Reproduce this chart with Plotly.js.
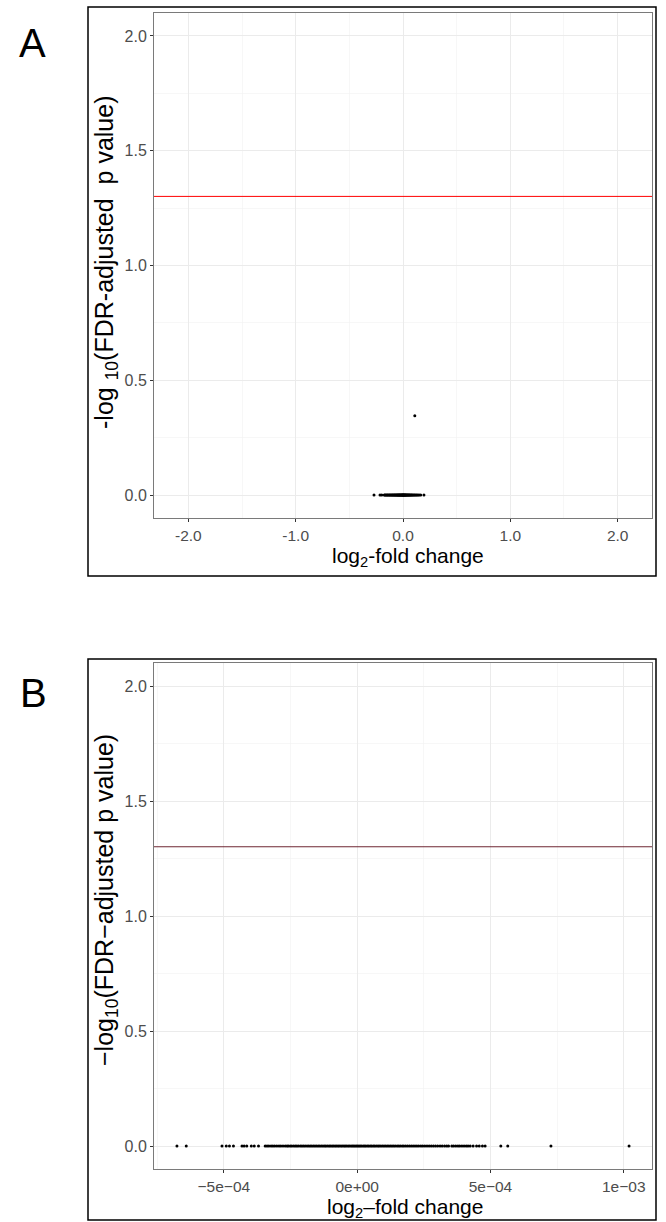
<!DOCTYPE html>
<html>
<head>
<meta charset="utf-8">
<script src="https://cdn.plot.ly/plotly-3.0.1.min.js"></script>
<style>html,body{margin:0;padding:0;background:#fff;}#chart{width:666px;height:1222px;}</style>
</head>
<body>
<div id="chart"></div>
<script>
// ---------- Panel A data ----------
const aZeroX = [-0.27, -0.214, -0.198, -0.175, -0.168, -0.160, -0.152, -0.146, -0.139, -0.131, -0.125, -0.118, -0.112, -0.105, -0.099, -0.093, -0.087, -0.081, -0.076, -0.070, -0.065, -0.060, -0.055, -0.050, -0.046, -0.041, -0.037, -0.033, -0.029, -0.025, -0.021, -0.017, -0.013, -0.010, -0.006, -0.003, 0.000, 0.003, 0.006, 0.009, 0.012, 0.016, 0.019, 0.023, 0.027, 0.031, 0.035, 0.040, 0.044, 0.049, 0.054, 0.059, 0.064, 0.070, 0.076, 0.082, 0.089, 0.096, 0.104, 0.112, 0.121, 0.130, 0.140, 0.151, 0.165, 0.195];
const aZeroY = aZeroX.map(() => 0);
const aHighX = [0.11];
const aHighY = [0.345];

// ---------- Panel B data ----------
const bX = [-67.6e-5, -64.1e-5, -50.7e-5, -49.1e-5, -47.9e-5, -46.4e-5, -43.2e-5, -42.4e-5, -41.4e-5, -39.7e-5, -38.6e-5, -37.0e-5,
  -34.5e-5, -33.8e-5, -33.1e-5, -32.3e-5, -31.6e-5, -30.9e-5, -30.1e-5, -29.3e-5, -28.6e-5, -27.8e-5, -27.0e-5, -26.3e-5, -25.8e-5,
  -25.1e-5, -24.5e-5, -23.8e-5, -23.2e-5, -22.6e-5, -22.0e-5, -21.3e-5, -20.7e-5, -20.1e-5, -19.5e-5, -18.8e-5, -18.2e-5, -17.6e-5, -17.0e-5, -16.4e-5, -15.8e-5, -15.2e-5, -14.6e-5, -14.0e-5, -13.4e-5, -12.8e-5, -12.2e-5, -11.7e-5, -11.1e-5, -10.5e-5, -10.0e-5, -9.4e-5, -8.9e-5, -8.3e-5, -7.8e-5, -7.2e-5, -6.7e-5, -6.1e-5, -5.6e-5, -5.0e-5, -4.5e-5, -4.0e-5, -3.4e-5, -2.9e-5, -2.3e-5, -1.8e-5, -1.3e-5, -0.8e-5, -0.3e-5,
  0.2e-5, 0.7e-5, 1.2e-5, 1.7e-5, 2.3e-5, 2.8e-5, 3.3e-5, 3.9e-5, 4.4e-5, 5.0e-5, 5.5e-5, 6.1e-5, 6.6e-5, 7.2e-5, 7.8e-5, 8.3e-5, 8.9e-5, 9.5e-5, 10.1e-5, 10.7e-5, 11.3e-5, 11.9e-5, 12.5e-5, 13.1e-5, 13.7e-5, 14.3e-5, 15.0e-5, 15.6e-5, 16.2e-5, 16.9e-5, 17.5e-5, 18.2e-5, 18.9e-5, 19.6e-5, 20.3e-5, 21.0e-5, 21.7e-5, 22.4e-5, 23.1e-5, 23.9e-5, 24.6e-5, 25.4e-5, 26.2e-5, 27.0e-5, 27.8e-5, 28.6e-5, 29.4e-5, 30.2e-5, 31.1e-5,
  31.9e-5, 32.8e-5, 33.6e-5, 34.3e-5, 35.5e-5, 36.2e-5, 37.0e-5, 37.8e-5, 38.5e-5, 39.3e-5, 40.1e-5, 40.9e-5, 41.6e-5, 42.4e-5, 43.5e-5, 44.8e-5, 45.8e-5, 47.0e-5, 48.0e-5,
  53.9e-5, 56.5e-5, 72.7e-5, 102.0e-5];
const bY = bX.map(() => 0);

// ---------- ticks / labels ----------
const yTickVals = [0, 0.5, 1.0, 1.5, 2.0];
const yTickText = ["0.0", "0.5", "1.0", "1.5", "2.0"];
const aXTickVals = [-2, -1, 0, 1, 2];
const aXTickText = ["-2.0", "-1.0", "0.0", "1.0", "2.0"];
const bXTickVals = [-5e-4, 0, 5e-4, 1e-3];
const bXTickText = ["\u22125e\u221204", "0e+00", "5e\u221204", "1e\u221203"];
const threshold = 1.30103; // -log10(0.05)

const W = 666, H = 1222;
const FONT = "Liberation Sans, Arial, Helvetica, sans-serif";
const px = v => v / W;
const py = v => 1 - v / H;

const axisCommon = {
  showline: true, mirror: true, linecolor: "#7a7a7a", linewidth: 1,
  ticks: "outside", ticklen: 3, tickcolor: "#333333", tickwidth: 1,
  tickfont: {family: FONT, size: 16, color: "#4D4D4D"},
  showgrid: true, gridcolor: "#EBEBEB", gridwidth: 1,
  zeroline: false, fixedrange: true,
};

const traces = [
  {x: aZeroX, y: aZeroY, xaxis: "x", yaxis: "y", mode: "markers", type: "scatter",
   marker: {color: "#000", size: 3}, hoverinfo: "skip"},
  {x: aHighX, y: aHighY, xaxis: "x", yaxis: "y", mode: "markers", type: "scatter",
   marker: {color: "#000", size: 3}, hoverinfo: "skip"},
  {x: bX, y: bY, xaxis: "x2", yaxis: "y2", mode: "markers", type: "scatter",
   marker: {color: "#000", size: 3}, hoverinfo: "skip"},
];

const layout = {
  width: W, height: H, showlegend: false,
  margin: {l: 0, r: 0, t: 0, b: 0},
  paper_bgcolor: "#fff", plot_bgcolor: "#fff",
  font: {family: FONT},
  xaxis: Object.assign({}, axisCommon, {
    domain: [px(154), px(652)], anchor: "y", range: [-2.32, 2.32],
    tickmode: "array", tickvals: aXTickVals, ticktext: aXTickText,
    tickfont: {family: FONT, size: 15.5, color: "#4D4D4D"},
    minor: {showgrid: true, gridcolor: "#F2F2F2", gridwidth: 0.6, dtick: 0.5, tick0: 0.5, ticks: ""},
  }),
  yaxis: Object.assign({}, axisCommon, {
    domain: [py(518), py(13)], anchor: "x", range: [-0.1, 2.1],
    tickmode: "array", tickvals: yTickVals, ticktext: yTickText,
    minor: {showgrid: true, gridcolor: "#F2F2F2", gridwidth: 0.6, dtick: 0.5, tick0: 0.25, ticks: ""},
  }),
  xaxis2: Object.assign({}, axisCommon, {
    domain: [px(154), px(652)], anchor: "y2", range: [-7.62e-4, 1.106e-3],
    tickmode: "array", tickvals: bXTickVals, ticktext: bXTickText,
    tickfont: {family: FONT, size: 15.5, color: "#4D4D4D"},
    minor: {showgrid: true, gridcolor: "#F2F2F2", gridwidth: 0.6, dtick: 5e-4, tick0: 2.5e-4, ticks: ""},
  }),
  yaxis2: Object.assign({}, axisCommon, {
    domain: [py(1169), py(663)], anchor: "x2", range: [-0.1, 2.1],
    tickmode: "array", tickvals: yTickVals, ticktext: yTickText,
    minor: {showgrid: true, gridcolor: "#F2F2F2", gridwidth: 0.6, dtick: 0.5, tick0: 0.25, ticks: ""},
  }),
  shapes: [
    {type: "line", xref: "x domain", yref: "y", x0: 0, x1: 1, y0: threshold, y1: threshold,
     line: {color: "#FF0000", width: 1}},
    {type: "line", xref: "x2 domain", yref: "y2", x0: 0, x1: 1, y0: threshold, y1: threshold,
     line: {color: "#5E0F1C", width: 0.9}},
    {type: "rect", xref: "paper", yref: "paper", x0: px(88), x1: px(656), y0: py(576), y1: py(7),
     line: {color: "#000", width: 1.5}, fillcolor: "rgba(0,0,0,0)"},
    {type: "rect", xref: "paper", yref: "paper", x0: px(88), x1: px(656), y0: py(1220), y1: py(659),
     line: {color: "#000", width: 1.5}, fillcolor: "rgba(0,0,0,0)"},
  ],
  annotations: [
    {text: "A", xref: "paper", yref: "paper", x: px(32), y: py(43), xanchor: "center", yanchor: "middle",
     showarrow: false, font: {family: FONT, size: 40, color: "#000"}},
    {text: "B", xref: "paper", yref: "paper", x: px(33), y: py(693), xanchor: "center", yanchor: "middle",
     showarrow: false, font: {family: FONT, size: 40, color: "#000"}},
    {text: "log<sub>2</sub>-fold change", xref: "paper", yref: "paper", x: px(408), y: py(557),
     xanchor: "center", yanchor: "middle", showarrow: false, font: {family: FONT, size: 21, color: "#000"}},
    {text: "log<sub>2</sub>\u2013fold change", xref: "paper", yref: "paper", x: px(405), y: py(1208),
     xanchor: "center", yanchor: "middle", showarrow: false, font: {family: FONT, size: 21, color: "#000"}},
    {text: "-log <sub>10</sub>(FDR-adjusted  p value)", xref: "paper", yref: "paper", x: px(106), y: py(262),
     xanchor: "center", yanchor: "middle", textangle: -90, showarrow: false, font: {family: FONT, size: 25, color: "#000"}},
    {text: "\u2212log<sub>10</sub>(FDR\u2212adjusted p value)", xref: "paper", yref: "paper", x: px(106), y: py(900),
     xanchor: "center", yanchor: "middle", textangle: -90, showarrow: false, font: {family: FONT, size: 25, color: "#000"}},
  ],
};

Plotly.newPlot("chart", traces, layout, {staticPlot: true, displayModeBar: false});
</script>
</body>
</html>
